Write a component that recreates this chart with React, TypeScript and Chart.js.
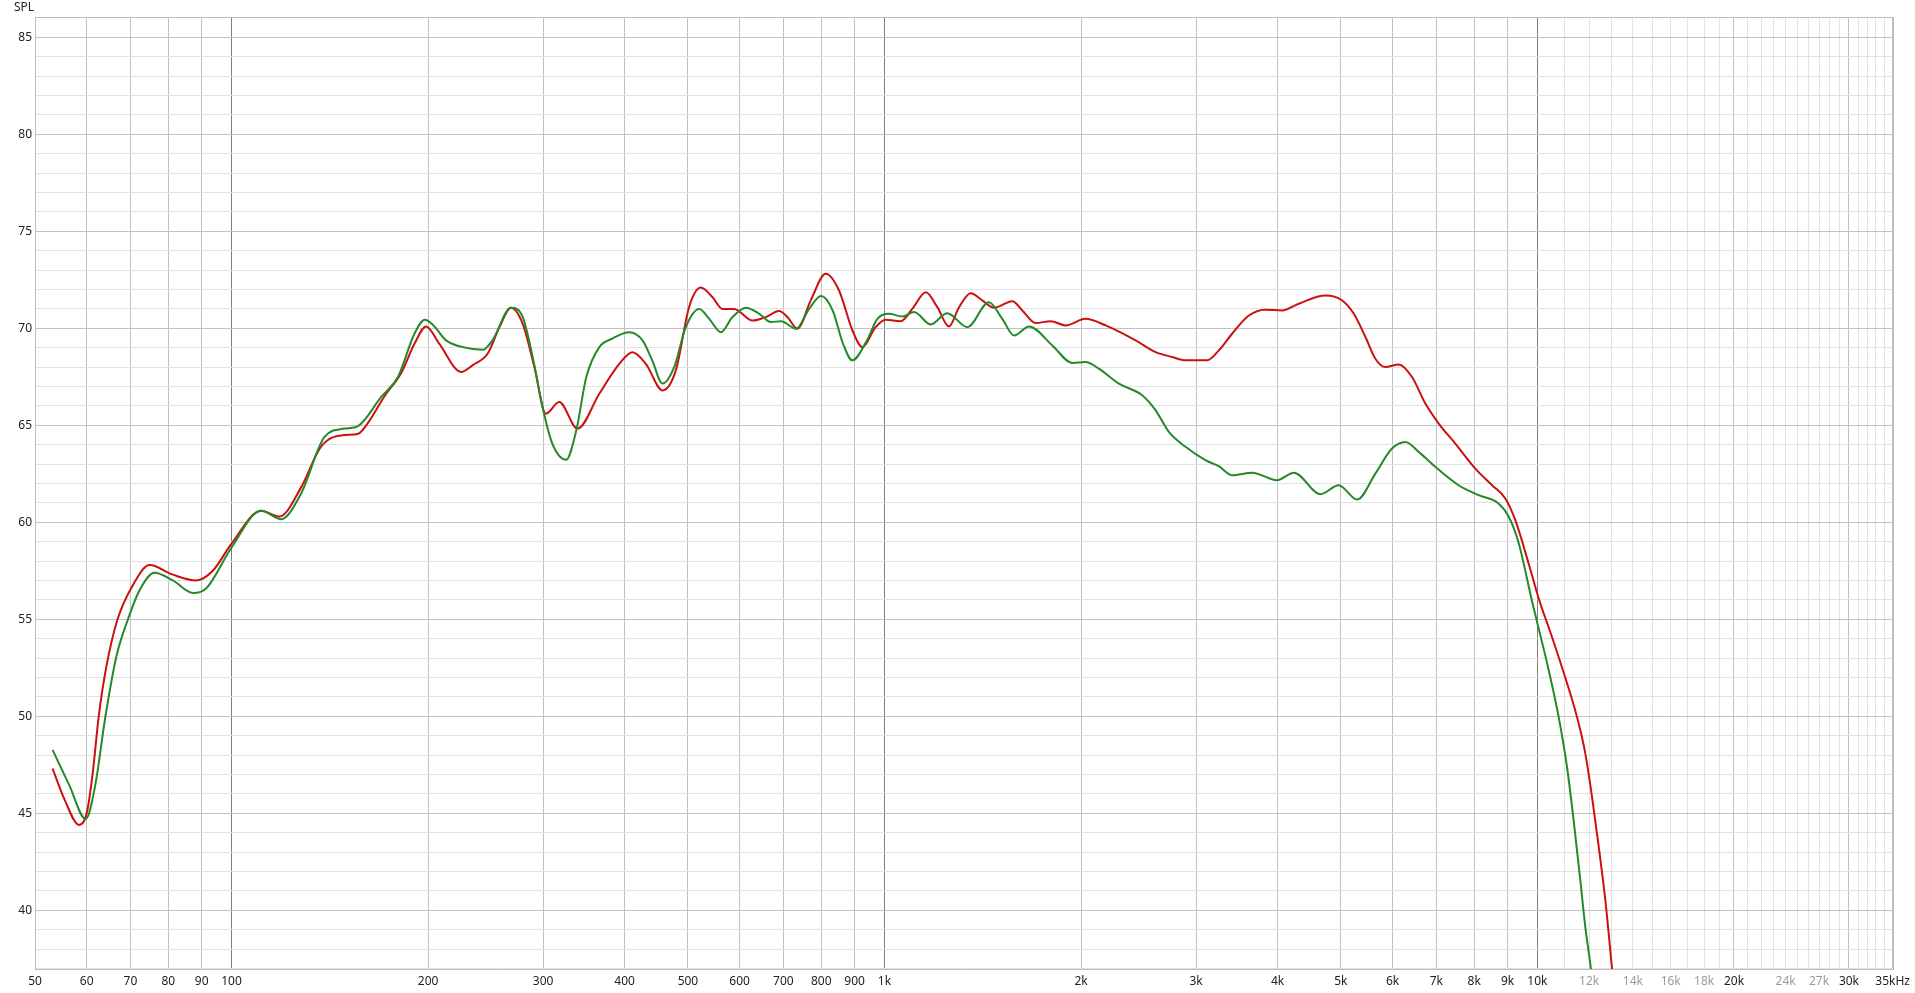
import { useEffect, useRef } from 'react';
import { Chart, registerables } from 'chart.js';

Chart.register(...registerables);

// Frequency response, red trace
const redFreq = [53.2, 55.5, 58.4, 60.0, 61.3, 62.6, 64.3, 66.9, 70.6, 74.9, 81.3, 88.3, 93.6, 100, 111.0, 118.4, 127.8, 137.1, 148.9, 156.0, 161.6, 171.5, 181.9, 190.6, 198.6, 208.1, 224.7, 234.1, 246.8, 257.2, 267.9, 279.2, 290.9, 303.0, 317.6, 338.8, 365.8, 392.5, 411.3, 431.0, 457.2, 479.1, 502.1, 523.3, 545.3, 564.9, 588.5, 627.8, 657.9, 689.5, 710.1, 735.6, 770.9, 812.8, 851.9, 892.9, 925.0, 969.4, 1004, 1059, 1103, 1157, 1205, 1255, 1301, 1355, 1412, 1472, 1570, 1626, 1704, 1797, 1894, 2032, 2181, 2424, 2602, 2758, 2891, 3120, 3251, 3407, 3614, 3831, 4063, 4310, 4733, 5018, 5234, 5453, 5647, 5849, 6131, 6426, 6736, 7060, 7485, 8033, 8520, 8930, 9250, 9694, 10040, 10524, 11030, 11494, 11837, 12120, 12410, 12703, 13005, 13300];
const redSpl = [47.3, 45.7, 44.4, 45.0, 47.1, 50.0, 52.55, 55.0, 56.76, 57.8, 57.3, 57.0, 57.5, 58.9, 60.6, 60.3, 61.8, 63.9, 64.5, 64.55, 65.1, 66.5, 67.7, 69.2, 70.1, 69.2, 67.75, 68.1, 68.7, 70.06, 71.06, 70.23, 68.0, 65.6, 66.2, 64.83, 66.63, 68.17, 68.77, 68.17, 66.8, 67.83, 71.1, 72.1, 71.6, 71.0, 71.0, 70.4, 70.58, 70.89, 70.58, 69.98, 71.44, 72.81, 71.95, 69.9, 69.03, 70.06, 70.44, 70.37, 71.0, 71.86, 71.09, 70.1, 71.09, 71.81, 71.44, 71.06, 71.4, 70.92, 70.27, 70.37, 70.15, 70.49, 70.15, 69.38, 68.77, 68.52, 68.35, 68.35, 68.86, 69.72, 70.66, 70.96, 70.92, 71.27, 71.69, 71.45, 70.75, 69.55, 68.43, 68.0, 68.14, 67.49, 66.12, 65.09, 64.06, 62.77, 61.91, 61.23, 60.11, 57.88, 56.1, 54.1, 52.0, 49.98, 48.1, 45.87, 43.3, 40.55, 37.03, 33.5];

// Frequency response, green trace
const greenFreq = [53.2, 56.4, 59.8, 61.8, 64.1, 66.6, 69.4, 72.3, 76.2, 81.3, 87.3, 91.5, 100, 111.0, 119.1, 127.8, 138.8, 148.9, 156.0, 169.5, 179.8, 190.6, 197.7, 203.8, 213.1, 226.1, 242.6, 251.0, 267.9, 279.2, 289.3, 299.4, 309.9, 325.4, 337.3, 349.4, 365.8, 382.2, 406.5, 426.0, 440.8, 457.2, 476.3, 496.2, 520.3, 539.0, 561.6, 585.1, 613.7, 643.0, 670.0, 694.5, 732.6, 766.6, 799.8, 833.0, 864.0, 892.9, 940.2, 975.2, 1016, 1065, 1110, 1177, 1248, 1339, 1445, 1515, 1579, 1665, 1807, 1940, 2032, 2130, 2286, 2481, 2602, 2726, 2891, 3101, 3251, 3407, 3656, 3993, 4236, 4652, 4962, 5295, 5647, 5988, 6277, 6579, 6976, 7572, 8128, 8718, 9035, 9358, 9808, 10402, 10775, 11097, 11360, 11630, 11837, 12094, 12350];
const greenSpl = [48.27, 46.46, 44.7, 46.4, 50.0, 53.07, 55.0, 56.5, 57.4, 57.0, 56.35, 56.6, 58.7, 60.6, 60.16, 61.48, 64.4, 64.83, 64.95, 66.46, 67.49, 69.72, 70.44, 70.15, 69.38, 69.03, 68.9, 69.38, 71.06, 70.58, 68.5, 65.94, 64.06, 63.23, 64.74, 67.49, 69.03, 69.46, 69.8, 69.38, 68.35, 67.15, 68.0, 70.06, 71.0, 70.49, 69.8, 70.58, 71.06, 70.75, 70.32, 70.37, 69.98, 71.0, 71.66, 70.92, 69.2, 68.35, 69.38, 70.49, 70.75, 70.61, 70.84, 70.2, 70.78, 70.06, 71.35, 70.49, 69.63, 70.1, 69.12, 68.21, 68.26, 67.92, 67.15, 66.55, 65.77, 64.66, 63.89, 63.2, 62.89, 62.43, 62.56, 62.17, 62.56, 61.45, 61.91, 61.17, 62.51, 63.8, 64.14, 63.63, 62.86, 61.91, 61.4, 60.97, 60.3, 58.95, 55.95, 52.4, 49.98, 47.41, 44.66, 41.58, 39.17, 36.8, 33.8];

// X axis grid / tick values and their labels
const xTickValues = [50, 60, 70, 80, 90, 100, 200, 300, 400, 500, 600, 700, 800, 900, 1000, 2000, 3000, 4000, 5000, 6000, 7000, 8000, 9000, 10000, 11000, 12000, 13000, 14000, 15000, 16000, 17000, 18000, 19000, 20000, 21000, 22000, 23000, 24000, 25000, 26000, 27000, 28000, 29000, 30000, 31000, 32000, 33000, 34000, 35000];
const xTickLabels = ['50', '60', '70', '80', '90', '100', '200', '300', '400', '500', '600', '700', '800', '900', '1k', '2k', '3k', '4k', '5k', '6k', '7k', '8k', '9k', '10k', '', '12k', '', '14k', '', '16k', '', '18k', '', '20k', '', '', '', '24k', '', '', '27k', '', '', '30k', '', '', '', '', '35kHz'];
const xGreyLabels = ['12k', '14k', '16k', '18k', '24k', '27k'];
const xDecadeLines = [100, 1000, 10000];
const xMinorLines = [11000, 12000, 13000, 14000, 15000, 16000, 17000, 18000, 19000, 21000, 22000, 23000, 24000, 25000, 26000, 27000, 28000, 29000, 31000, 32000, 33000, 34000];

// Y axis
const yMin = 36.97;
const yMax = 86.05;
const yTickValues = [37, 38, 39, 40, 41, 42, 43, 44, 45, 46, 47, 48, 49, 50, 51, 52, 53, 54, 55, 56, 57, 58, 59, 60, 61, 62, 63, 64, 65, 66, 67, 68, 69, 70, 71, 72, 73, 74, 75, 76, 77, 78, 79, 80, 81, 82, 83, 84, 85, 86];

const FONT = "'Segoe UI', 'Noto Sans', sans-serif";

export default function App() {
  const ref = useRef<HTMLCanvasElement>(null);

  useEffect(() => {
    document.body.style.margin = '0';
    const framePlugin = {
      id: 'frame',
      beforeDatasetsDraw(chart: any) {
        const { ctx, chartArea } = chart;
        ctx.save();
        ctx.strokeStyle = '#bcbcbc';
        ctx.lineWidth = 1;
        ctx.strokeRect(
          Math.round(chartArea.left) + 0.5,
          Math.round(chartArea.top) + 0.5,
          Math.round(chartArea.right - chartArea.left),
          Math.round(chartArea.bottom - chartArea.top)
        );
        ctx.restore();
      },
      afterDraw(chart: any) {
        const { ctx } = chart;
        ctx.save();
        ctx.fillStyle = '#222';
        ctx.font = `12px ${FONT}`;
        ctx.textAlign = 'left';
        ctx.textBaseline = 'middle';
        ctx.fillText('SPL', 14, 7.5);
        ctx.restore();
      },
    };

    const chart = new Chart(ref.current!, {
      type: 'scatter',
      data: {
        datasets: [
          {
            label: 'green',
            data: greenFreq.map((f, i) => ({ x: f, y: greenSpl[i] })),
            borderColor: '#24892a',
            backgroundColor: '#24892a',
            borderWidth: 2,
            showLine: true,
            pointRadius: 0,
            cubicInterpolationMode: 'monotone',
          },
          {
            label: 'red',
            data: redFreq.map((f, i) => ({ x: f, y: redSpl[i] })),
            borderColor: '#cc1010',
            backgroundColor: '#cc1010',
            borderWidth: 2,
            showLine: true,
            pointRadius: 0,
            cubicInterpolationMode: 'monotone',
          },
        ],
      },
      options: {
        animation: false,
        responsive: true,
        maintainAspectRatio: false,
        layout: { padding: { top: 17, right: 18, left: 0, bottom: 0 } },
        plugins: { legend: { display: false }, tooltip: { enabled: false } },
        scales: {
          x: {
            type: 'logarithmic',
            min: 50,
            max: 35000,
            afterBuildTicks: (scale: any) => {
              scale.ticks = xTickValues.map((v) => ({ value: v }));
            },
            afterFit: (scale: any) => {
              scale.height = 24;
            },
            border: { display: false },
            grid: {
              drawTicks: false,
              lineWidth: 1,
              color: (ctx: any) => {
                const v = ctx.tick ? ctx.tick.value : 0;
                if (v === 50 || v === 35000) return '#bcbcbc';
                if (xDecadeLines.includes(v)) return '#7c7c7c';
                if (xMinorLines.includes(v)) return '#e2e2e2';
                return '#c2c2c2';
              },
            },
            ticks: {
              autoSkip: false,
              maxRotation: 0,
              minRotation: 0,
              padding: 5,
              font: { family: FONT, size: 12 },
              color: (ctx: any) => {
                const i = xTickValues.indexOf(ctx.tick ? ctx.tick.value : -1);
                return i >= 0 && xGreyLabels.includes(xTickLabels[i]) ? '#9a9a9a' : '#222';
              },
              callback: (value: any) => {
                const i = xTickValues.indexOf(Number(value));
                return i >= 0 ? xTickLabels[i] : '';
              },
            },
          },
          y: {
            type: 'linear',
            min: yMin,
            max: yMax,
            afterBuildTicks: (scale: any) => {
              scale.ticks = yTickValues.map((v) => ({ value: v }));
            },
            afterFit: (scale: any) => {
              scale.width = 35;
            },
            border: { display: false },
            grid: {
              drawTicks: false,
              lineWidth: 1,
              color: (ctx: any) => {
                const v = ctx.tick ? ctx.tick.value : 0;
                return v % 5 === 0 ? '#c2c2c2' : '#e2e2e2';
              },
            },
            ticks: {
              autoSkip: false,
              padding: 3,
              font: { family: FONT, size: 12 },
              color: '#222',
              callback: (value: any) => (Number(value) % 5 === 0 ? String(value) : ''),
            },
          },
        },
      },
      plugins: [framePlugin],
    } as any);

    return () => chart.destroy();
  }, []);

  return (
    <div style={{ width: 1915, height: 993, position: 'relative' }}>
      <canvas ref={ref} />
    </div>
  );
}
